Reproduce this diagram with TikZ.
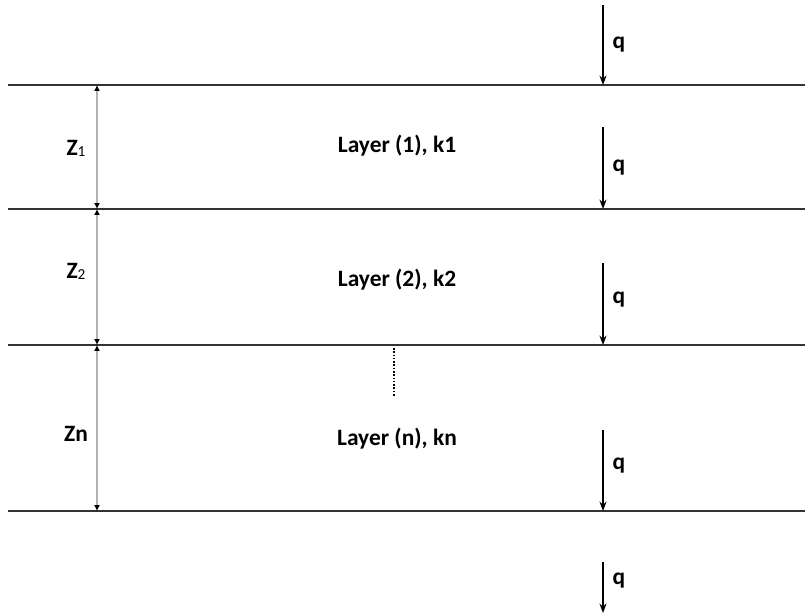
\documentclass[tikz,border=0pt]{standalone}
\usepackage{fontspec}
\setmainfont{Carlito}
\usetikzlibrary{calc,positioning}
\usetikzlibrary{arrows,arrows.meta}

\begin{document}
\begin{tikzpicture}[x=0.03cm,y=-0.03cm]
  \tikzstyle{bound} = [line width=1.2pt, draw=black!80]
  \tikzstyle{flux} = [line width=1.4pt, -{Stealth[length=8pt,width=6pt]}]
  \tikzstyle{dim} = [line width=1.3pt, draw=black!30, {Latex[black,length=5pt,width=5pt]}-{Latex[black,length=5pt,width=5pt]}]
  \tikzstyle{lab} = [font=\fontsize{20}{24}\selectfont\bfseries, inner sep=0pt]
  \tikzstyle{qlab} = [font=\fontsize{20}{24}\selectfont\bfseries, inner sep=0pt]
  \useasboundingbox (0,0) rectangle (805,616);

  % layer boundaries
  \coordinate (b0l) at (8,85);   \coordinate (b0r) at (805,85);
  \coordinate (b1l) at (8,209);  \coordinate (b1r) at (805,209);
  \coordinate (b2l) at (8,345);  \coordinate (b2r) at (805,345);
  \coordinate (b3l) at (8,511);  \coordinate (b3r) at (805,511);
  \draw[bound] (b0l) -- (b0r);
  \draw[bound] (b1l) -- (b1r);
  \draw[bound] (b2l) -- (b2r);
  \draw[bound] (b3l) -- (b3r);

  % thicknesses
  \coordinate (d0) at (97,85);
  \coordinate (d1) at (97,209);
  \coordinate (d2) at (97,345);
  \coordinate (d3) at (97,511);
  \draw[dim] (d0) -- (d1);
  \draw[dim] (d1) -- (d2);
  \draw[dim] (d2) -- (d3);
  \node[lab] (z1) at (76,148) {Z{\mdseries\fontsize{13}{15}\selectfont\raisebox{-1pt}{1}}};
  \node[lab] (z2) at (76,271) {Z{\mdseries\fontsize{13}{15}\selectfont\raisebox{-1pt}{2}}};
  \node[lab] (zn) at (76,434) {Zn};

  % layers
  \node[lab] (l1) at (397,146) {Layer (1), k1};
  \node[lab] (l2) at (397,280) {Layer (2), k2};
  \node[lab] (ln) at (397,439) {Layer (n), kn};
  \coordinate (dot1) at (394,348);
  \coordinate (dot2) at (394,396);
  \draw[line width=2pt, dash pattern=on 1.4pt off 1.4pt] (dot1) -- (dot2);

  % flux q
  \coordinate (q0s) at (603,5);   \coordinate (q0e) at (603,85);
  \coordinate (q1s) at (603,127); \coordinate (q1e) at (603,209);
  \coordinate (q2s) at (603,263); \coordinate (q2e) at (603,345);
  \coordinate (q3s) at (603,430); \coordinate (q3e) at (603,511);
  \coordinate (q4s) at (603,562); \coordinate (q4e) at (603,613);
  \draw[flux] (q0s) -- (q0e);
  \draw[flux] (q1s) -- (q1e);
  \draw[flux] (q2s) -- (q2e);
  \draw[flux] (q3s) -- (q3e);
  \draw[flux] (q4s) -- (q4e);
  \node[qlab] (q0) at (619,45) {q};
  \node[qlab] (q1) at (619,168) {q};
  \node[qlab] (q2) at (619,300) {q};
  \node[qlab] (q3) at (619,466) {q};
  \node[qlab] (q4) at (619,581) {q};
\end{tikzpicture}
\end{document}
